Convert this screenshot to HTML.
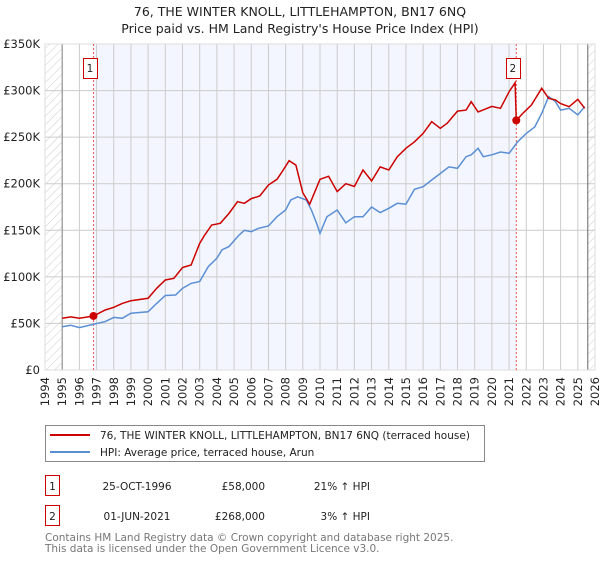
<!DOCTYPE html>
<html><head><meta charset="utf-8">
<style>
body{margin:0;background:#fff;font-family:"DejaVu Sans","Liberation Sans",sans-serif;}
svg text{font-family:"DejaVu Sans","Liberation Sans",sans-serif;}
</style></head>
<body>
<svg id="c" width="600" height="560" xmlns="http://www.w3.org/2000/svg">
<defs>
<pattern id="hatch" width="6" height="6" patternUnits="userSpaceOnUse" patternTransform="rotate(45)">
<line x1="0" y1="0" x2="0" y2="6" stroke="#ccc" stroke-width="1"/>
</pattern>
</defs>
<text x="300" y="16" text-anchor="middle" font-size="12.5" fill="#222">76, THE WINTER KNOLL, LITTLEHAMPTON, BN17 6NQ</text>
<text x="300" y="33" text-anchor="middle" font-size="12.5" fill="#222">Price paid vs. HM Land Registry's House Price Index (HPI)</text>
<g id="plot"></g>
<g>
<rect x="45.5" y="425.5" width="439" height="36" fill="#fff" stroke="#888"/>
<line x1="50" y1="435" x2="90" y2="435" stroke="#cc0000" stroke-width="2"/>
<text x="100" y="439" font-size="10.5" fill="#222">76, THE WINTER KNOLL, LITTLEHAMPTON, BN17 6NQ (terraced house)</text>
<line x1="50" y1="452" x2="90" y2="452" stroke="#5b8fd4" stroke-width="2"/>
<text x="100" y="456" font-size="10.5" fill="#222">HPI: Average price, terraced house, Arun</text>
</g>
<g font-size="10.5" fill="#222">
<rect x="45.5" y="475.5" width="14" height="20" fill="#fff" stroke="#cc0000"/>
<text x="52.5" y="490" text-anchor="middle">1</text>
<text x="137" y="490" text-anchor="middle">25-OCT-1996</text>
<text x="265" y="490" text-anchor="end">£58,000</text>
<text x="370" y="490" text-anchor="end">21% ↑ HPI</text>
<rect x="45.5" y="505.5" width="14" height="20" fill="#fff" stroke="#cc0000"/>
<text x="52.5" y="520" text-anchor="middle">2</text>
<text x="137" y="520" text-anchor="middle">01-JUN-2021</text>
<text x="265" y="520" text-anchor="end">£268,000</text>
<text x="370" y="520" text-anchor="end">3% ↑ HPI</text>
</g>
<text x="45" y="541" font-size="10.5" fill="#777">Contains HM Land Registry data © Crown copyright and database right 2025.</text>
<text x="45" y="552" font-size="10.5" fill="#777">This data is licensed under the Open Government Licence v3.0.</text>
</svg>
<script>
const yTicks=[0,50,100,150,200,250,300,350];
const yTickLabels=["£0","£50K","£100K","£150K","£200K","£250K","£300K","£350K"];
const xYears=[1994,1995,1996,1997,1998,1999,2000,2001,2002,2003,2004,2005,2006,2007,2008,2009,2010,2011,2012,2013,2014,2015,2016,2017,2018,2019,2020,2021,2022,2023,2024,2025,2026];
const hpiT=[1995,1995.5,1996,1996.8,1997.5,1998,1998.5,1999,2000,2000.5,2001,2001.6,2002,2002.5,2003,2003.5,2004,2004.3,2004.7,2005.3,2005.6,2006,2006.4,2007,2007.5,2008,2008.3,2008.7,2009.2,2009.5,2009.8,2010.0,2010.4,2011,2011.5,2012,2012.5,2013,2013.5,2014,2014.5,2015,2015.5,2016,2016.5,2017,2017.5,2018,2018.5,2018.8,2019.2,2019.5,2020,2020.5,2021,2021.5,2022,2022.5,2022.9,2023.3,2023.7,2024,2024.5,2025,2025.4];
const hpiV=[46.5,48,45.5,49,52,56.5,55.5,61,62.5,71.5,80,80.5,87.7,93,95,111,120,129,132.5,145,150,148.5,152,154.6,164.6,171.8,182.5,186,182.5,171.8,157.5,146.7,164.6,171.8,158,164.6,164.6,175,169,173.6,179,178,194,196.8,204,211,218,216.5,229,231,238,229,231,234,232.6,245,254,261,275.5,293.5,288,279,281,274,282.7,271];
const ppT=[1995,1995.5,1996,1996.82,1997.5,1998,1998.5,1999,2000,2000.5,2001,2001.5,2002,2002.5,2003,2003.3,2003.7,2004.2,2004.7,2005.2,2005.6,2006,2006.5,2007,2007.5,2007.8,2008.2,2008.6,2009,2009.4,2010,2010.5,2011,2011.5,2012,2012.5,2013,2013.5,2014,2014.5,2015,2015.5,2016,2016.5,2017,2017.4,2018,2018.5,2018.8,2019.2,2019.6,2020,2020.5,2021,2021.35,2021.42,2021.8,2022.3,2022.9,2023.3,2023.7,2024,2024.5,2025,2025.4];
const ppV=[55.5,57,55.5,58,64.4,67.3,71.5,74.4,77,87.7,96.6,98.4,110,112.7,136,145,155.7,157.5,168,180.7,179,184,186.8,198.6,204.7,213,224.7,220,190.4,178,204.7,208,191.5,200,197,214.7,203,218,214.7,229,238,245,254,266.6,259.5,265,278,279,288,277,280,283,281,298.8,308.5,268,275.5,284.5,302.4,291.7,290,286,282.7,290.6,281];
const saleT=[1996.82,2021.42];
const saleV=[58,268];
const saleLabels=["1","2"];

const L=45,R=595,T=44,B=370,x0=1994,x1=2026,yMax=350;
const X=t=>L+(t-x0)/(x1-x0)*(R-L);
const Y=v=>B-v/yMax*(B-T);
const NS="http://www.w3.org/2000/svg";
const g=document.getElementById('plot');
function mk(tag,attrs,parent){const e=document.createElementNS(NS,tag);for(const k in attrs)e.setAttribute(k,attrs[k]);(parent||g).appendChild(e);return e;}

mk('rect',{x:L,y:T,width:R-L,height:B-T,fill:'#fff'});
const band=mk('rect',{x:X(saleT[0]),y:T,width:X(saleT[1])-X(saleT[0]),height:B-T,fill:'#f3f6fe'});


const h1=mk('rect',{x:L,y:T,width:X(1995)-L,height:B-T,fill:'url(#hatch)'});


const h2=mk('rect',{x:X(2025.58),y:T,width:R-X(2025.58),height:B-T,fill:'url(#hatch)'});



xYears.forEach(yr=>{
  mk('line',{x1:X(yr),y1:T,x2:X(yr),y2:B,stroke:'#ccc','stroke-width':1});
  const t=mk('text',{x:X(yr)+4,y:377,'font-size':11.5,fill:'#222','text-anchor':'end',transform:`rotate(-90 ${X(yr)+4} 377)`});
  t.textContent=yr;
  
  
});
yTicks.forEach((v,i)=>{
  mk('line',{x1:L,y1:Y(v),x2:R,y2:Y(v),stroke:'#ccc','stroke-width':1});
  const t=mk('text',{x:40,y:Y(v)+4,'font-size':11.5,fill:'#222','text-anchor':'end'});
  t.textContent=yTickLabels[i];
  
  
});
mk('line',{x1:X(1995),y1:T,x2:X(1995),y2:B,stroke:'#888','stroke-width':1});
mk('line',{x1:X(2025.58),y1:T,x2:X(2025.58),y2:B,stroke:'#666','stroke-width':1});
mk('rect',{x:L,y:T,width:R-L,height:B-T,fill:'none',stroke:'#ddd'});

saleT.forEach(t=>{mk('line',{x1:X(t),y1:T,x2:X(t),y2:B,stroke:'#e55','stroke-width':1,'stroke-dasharray':'2,2'});});

const hp=mk('path',{d:hpiT.map((t,i)=>(i?'L':'M')+X(t).toFixed(1)+','+Y(hpiV[i]).toFixed(1)).join(''),fill:'none',stroke:'#5b8fd4','stroke-width':1.5});


const pp=mk('path',{d:ppT.map((t,i)=>(i?'L':'M')+X(t).toFixed(1)+','+Y(ppV[i]).toFixed(1)).join(''),fill:'none',stroke:'#cc0000','stroke-width':1.5});



saleT.forEach((t,i)=>{
  const c=mk('circle',{cx:X(t),cy:Y(saleV[i]),r:4,fill:'#cc0000'});
  
  
  const bx=X(t)-3.5;
  const r=mk('rect',{x:Math.round(bx-7)+0.5,y:58.5,width:14,height:20,fill:'#fff',stroke:'#cc0000'});
  
  
  const tx=mk('text',{x:bx,y:72,'font-size':10.5,fill:'#222','text-anchor':'middle'});
  tx.textContent=saleLabels[i];
  
  
});
</script>
</body></html>
